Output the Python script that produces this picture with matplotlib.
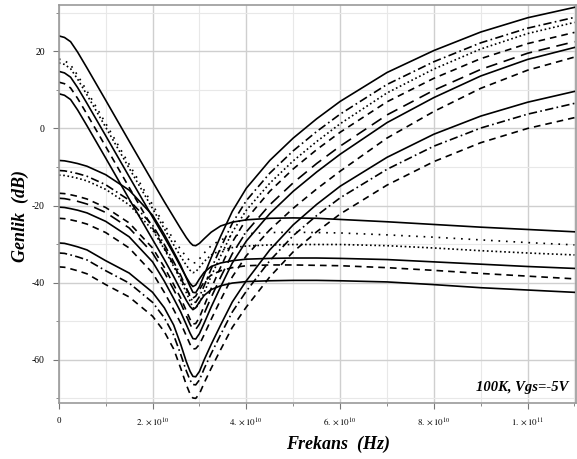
import numpy as np
import matplotlib.pyplot as plt
from matplotlib.ticker import MultipleLocator, FixedLocator

# frequency grid (x 1e10 Hz)
freq = [0, 0.12, 0.25, 0.4, 0.6, 1.0, 1.5, 2.0, 2.25, 2.45, 2.6, 2.72, 2.8, 2.86, 2.92,
        3.0, 3.1, 3.25, 3.45, 3.7, 4.0, 4.5, 5, 5.5, 6, 7, 8, 9, 10, 11]

# curves that fall, notch and level off
g1a = [24.0, 23.6, 22.5, 19.8, 15.7, 7.3, -3.3, -13.8, -19.0, -23.0, -26.0, -28.3, -29.6, -30.3, -30.4,
       -29.8, -28.6, -26.9, -25.3, -24.3, -23.7, -23.3, -23.2, -23.3, -23.6, -24.2, -24.9, -25.6, -26.2, -26.8]
g1b = [18.0, 17.6, 16.5, 13.8, 9.7, 1.3, -9.3, -19.8, -25.0, -28.8, -31.4, -33.3, -34.4, -34.9, -34.8,
       -33.8, -32.3, -30.4, -28.9, -27.9, -27.3, -27.0, -26.9, -27.0, -27.1, -27.6, -28.2, -28.9, -29.6, -30.2]
g1c = [17.0, 16.6, 15.5, 12.8, 8.7, 0.3, -10.3, -20.8, -26.0, -30.2, -33.2, -35.5, -36.8, -37.4, -37.2,
       -36.0, -34.5, -32.8, -31.6, -30.9, -30.5, -30.2, -30.1, -30.1, -30.1, -30.4, -31.0, -31.7, -32.3, -32.8]
g1d = [14.8, 14.4, 13.3, 10.6, 6.5, -1.9, -12.5, -23.0, -28.2, -32.5, -35.9, -38.6, -40.2, -41.0, -40.6,
       -39.0, -37.3, -35.8, -34.9, -34.3, -33.9, -33.7, -33.6, -33.6, -33.7, -34.0, -34.6, -35.2, -35.8, -36.3]
g1e = [12.0, 11.6, 10.5, 7.8, 3.7, -4.7, -15.3, -25.8, -31.0, -35.4, -38.9, -41.6, -43.2, -44.0, -43.5,
       -41.8, -39.8, -38.0, -36.9, -36.1, -35.6, -35.4, -35.4, -35.5, -35.6, -36.1, -36.8, -37.6, -38.3, -39.0]
g1f = [9.0, 8.6, 7.5, 4.8, 0.7, -7.7, -18.3, -28.8, -34.0, -38.4, -41.9, -44.6, -46.2, -47.0, -46.5,
       -45.0, -43.3, -41.8, -40.8, -40.1, -39.7, -39.5, -39.4, -39.4, -39.5, -39.8, -40.5, -41.3, -41.9, -42.5]

# curves that notch and then climb steeply
g2a = [-8.3, -8.4, -8.7, -9.1, -9.8, -12.0, -16.0, -22.5, -27.5, -32.0, -35.5, -38.8, -41.0, -42.5, -42.6,
       -41.0, -38.0, -33.5, -28.0, -21.5, -15.5, -8.3, -2.5, 2.5, 7.0, 14.5, 20.2, 25.0, 28.7, 31.4]
g2b = [-10.9, -11.0, -11.3, -11.7, -12.4, -14.6, -18.6, -25.1, -30.1, -34.6, -38.1, -41.4, -43.6, -45.0, -45.1,
       -43.6, -40.8, -36.4, -31.0, -24.6, -18.7, -11.6, -5.8, -0.8, 3.7, 11.4, 17.3, 22.2, 26.0, 28.8]
g2c = [-12.1, -12.2, -12.5, -12.9, -13.6, -15.8, -19.8, -26.3, -31.3, -35.8, -39.3, -42.6, -44.8, -46.5, -46.6,
       -45.2, -42.5, -38.3, -33.1, -26.9, -21.2, -14.2, -8.4, -3.4, 1.2, 9.2, 15.4, 20.6, 24.6, 27.5]
g2d = [-16.8, -16.9, -17.2, -17.6, -18.3, -20.5, -24.5, -31.0, -36.0, -40.5, -44.0, -47.3, -49.5, -50.7, -50.6,
       -49.0, -46.0, -41.5, -36.0, -29.5, -23.5, -16.3, -10.5, -5.5, -1.0, 6.9, 13.0, 18.1, 22.0, 24.9]
g2e = [-18.1, -18.2, -18.5, -18.9, -19.6, -21.8, -25.8, -32.3, -37.3, -41.8, -45.3, -48.6, -50.8, -52.1, -52.1,
       -50.7, -48.0, -43.8, -38.6, -32.5, -26.8, -19.8, -14.1, -9.1, -4.6, 3.5, 9.9, 15.3, 19.5, 22.5]
g2f = [-20.4, -20.5, -20.8, -21.2, -21.9, -24.1, -28.1, -34.6, -39.6, -44.1, -47.6, -50.9, -53.1, -54.5, -54.6,
       -53.2, -50.5, -46.3, -41.1, -34.9, -29.2, -22.1, -16.3, -11.3, -6.7, 1.5, 8.0, 13.6, 17.9, 21.0]
g2g = [-23.3, -23.4, -23.7, -24.1, -24.8, -27.0, -31.0, -37.5, -42.5, -47.0, -50.5, -53.8, -56.0, -57.2, -57.1,
       -56.0, -53.5, -49.5, -44.5, -38.5, -33.0, -26.3, -20.7, -15.7, -11.1, -2.5, 4.4, 10.4, 15.1, 18.5]

# deepest notch curves
g3a = [-29.7, -29.8, -30.2, -30.7, -31.5, -34.3, -37.5, -42.5, -46.5, -51.0, -56.0, -60.5, -63.0, -64.3, -64.4,
       -63.0, -60.0, -56.0, -51.0, -45.0, -39.5, -31.5, -25.0, -19.7, -15.0, -7.5, -1.5, 3.2, 6.8, 9.6]
g3b = [-32.3, -32.4, -32.8, -33.3, -34.1, -36.9, -40.1, -45.1, -49.1, -53.6, -58.6, -62.9, -65.3, -66.4, -66.5,
       -65.2, -62.3, -58.4, -53.5, -47.6, -42.2, -34.3, -27.8, -22.6, -18.0, -10.6, -4.6, 0.1, 3.7, 6.5]
g3c = [-35.9, -36.0, -36.4, -36.9, -37.7, -40.5, -43.7, -48.7, -52.7, -57.2, -62.2, -66.5, -68.9, -69.9, -70.0,
       -68.8, -66.0, -62.2, -57.4, -51.6, -46.3, -38.5, -32.0, -26.8, -22.2, -14.7, -8.6, -3.7, 0.0, 2.8]

solid = '-'
dot_sparse = (0, (1, 3.5))
dot_dense = (0, (1, 1.6))
dash = (0, (4, 3))
dash_long = (0, (7, 4))
dash_dot = (0, (5, 2, 1, 2))

curves = [
    (g1a, solid), (g1b, dot_sparse), (g1c, dot_dense), (g1d, solid), (g1e, dash), (g1f, solid),
    (g2a, solid), (g2b, dash_dot), (g2c, dot_dense), (g2d, dash), (g2e, dash_long),
    (g2f, solid), (g2g, dash),
    (g3a, solid), (g3b, dash_dot), (g3c, dash),
]

serif = 'Liberation Serif'
plt.rcParams['mathtext.fontset'] = 'stix'

fig = plt.figure(figsize=(5.77, 4.59), dpi=100)
ax = fig.add_axes([0.102, 0.122, 0.896, 0.867])

f_hz = np.array(freq) * 1e10
for vals, ls in curves:
    ax.plot(f_hz, vals, color='black', linestyle=ls, linewidth=1.2)

ax.set_xlim(0, 1.103e11)
ax.set_ylim(-71.2, 32)

ax.xaxis.set_major_locator(FixedLocator([0, 2e10, 4e10, 6e10, 8e10, 1e11]))
ax.xaxis.set_minor_locator(MultipleLocator(1e10))
ax.yaxis.set_major_locator(MultipleLocator(20))
ax.yaxis.set_minor_locator(MultipleLocator(10))

ax.set_xticklabels(['0', r'$2.\times10^{10}$', r'$4.\times10^{10}$', r'$6.\times10^{10}$',
                    r'$8.\times10^{10}$', r'$1.\times10^{11}$'])
ax.set_yticklabels([str(int(v)) for v in ax.get_yticks()])

ax.grid(which='major', color='#cfcfcf', linewidth=1.0)
ax.grid(which='minor', color='#e8e8e8', linewidth=0.8)
ax.set_axisbelow(True)

for side in ['left', 'bottom', 'top', 'right']:
    ax.spines[side].set_color('#9a9a9a')
    ax.spines[side].set_linewidth(1.2)

ax.tick_params(which='major', direction='out', length=4, color='#777777',
               labelsize=7, pad=6, top=False, right=False)
ax.tick_params(which='minor', direction='out', length=2, color='#777777',
               top=False, right=False)
for lbl in ax.get_yticklabels():
    lbl.set_fontfamily(serif)
for lbl in ax.get_xticklabels():
    lbl.set_fontfamily(serif)
    lbl.set_fontsize(6.5)

ax.set_xlabel('Frekans  (Hz)', fontfamily=serif, fontsize=13, fontweight='bold',
              fontstyle='italic')
ax.set_ylabel('Genlik  (dB)', fontfamily=serif, fontsize=13, fontweight='bold',
              fontstyle='italic')
ax.xaxis.set_label_coords(0.54, -0.082)
ax.yaxis.set_label_coords(-0.058, 0.47)

ax.text(0.985, 0.04, '100K, Vgs=-5V', transform=ax.transAxes, ha='right', va='center',
        fontfamily=serif, fontsize=10.5, fontweight='bold', fontstyle='italic')

fig.savefig('out.png', dpi=100)
